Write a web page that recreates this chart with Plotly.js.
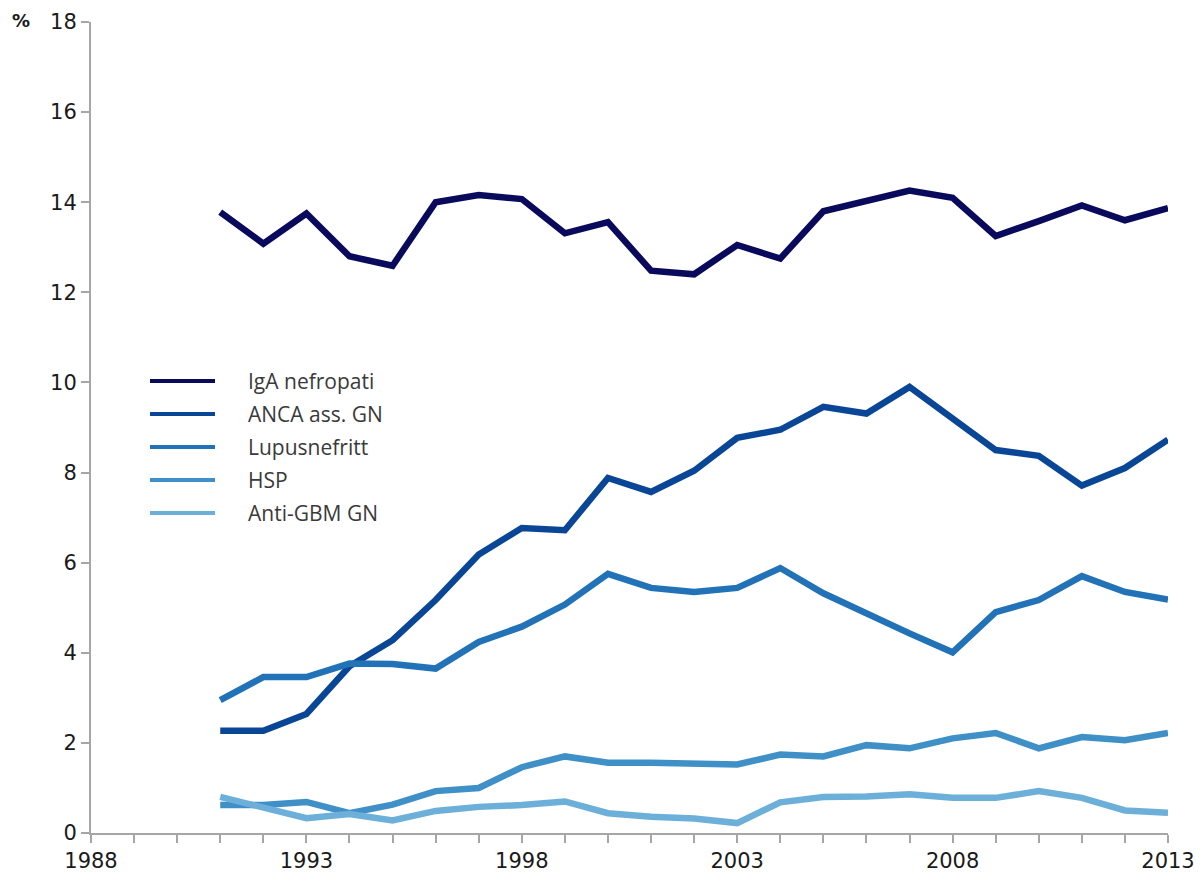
<!DOCTYPE html>
<html>
<head>
<meta charset="utf-8">
<script src="https://cdn.plot.ly/plotly-3.0.1.min.js"></script>
<style>html,body{margin:0;padding:0;background:#fff;}#chart{width:1203px;height:882px;}</style>
</head>
<body>
<div id="chart"></div>
<script>
const years = [1991,1992,1993,1994,1995,1996,1997,1998,1999,2000,2001,2002,2003,2004,2005,2006,2007,2008,2009,2010,2011,2012,2013];
const seriesNames = ["IgA nefropati","ANCA ass. GN","Lupusnefritt","HSP","Anti-GBM GN"];
const igaNefropati = [13.78,13.08,13.75,12.80,12.59,14.00,14.16,14.07,13.31,13.56,12.48,12.40,13.05,12.75,13.80,14.02,14.26,14.10,13.25,13.58,13.93,13.60,13.87];
const ancaAssGN   = [2.27,2.27,2.64,3.70,4.28,5.17,6.18,6.77,6.72,7.88,7.57,8.04,8.77,8.95,9.46,9.31,9.90,9.22,8.50,8.37,7.71,8.10,8.73];
const lupusnefritt = [2.95,3.46,3.46,3.76,3.75,3.65,4.24,4.58,5.07,5.75,5.44,5.35,5.44,5.88,5.32,4.87,4.43,4.01,4.90,5.17,5.70,5.35,5.18];
const hsp          = [0.62,0.62,0.69,0.44,0.63,0.93,1.00,1.46,1.70,1.56,1.56,1.55,1.52,1.74,1.70,1.95,1.88,2.10,2.22,1.88,2.13,2.06,2.22];
const antiGBM      = [0.80,0.57,0.33,0.42,0.28,0.49,0.58,0.62,0.70,0.44,0.36,0.32,0.22,0.68,0.80,0.81,0.86,0.78,0.78,0.93,0.78,0.50,0.45];
const xTickVals = [1988,1989,1990,1991,1992,1993,1994,1995,1996,1997,1998,1999,2000,2001,2002,2003,2004,2005,2006,2007,2008,2009,2010,2011,2012,2013];
const xTickText = ["1988","","","","","1993","","","","","1998","","","","","2003","","","","","2008","","","","","2013"];
const yTickVals = [0,2,4,6,8,10,12,14,16,18];

const allSeries = [igaNefropati, ancaAssGN, lupusnefritt, hsp, antiGBM];
const colors = ["#0a0a5c","#0a4696","#2272b8","#4090c8","#6cb0da"];

const traces = allSeries.map((vals,i)=>({
  x: years, y: vals, name: seriesNames[i], type: "scatter", mode: "lines",
  line: {color: colors[i], width: 6.5, shape: "linear"}, showlegend: false, hoverinfo: "x+y+name"
}));

// Manual legend (pixel geometry -> paper coords)
const W = 1203, H = 882, mL = 91, mR = 35, mT = 22, mB = 49;
const pw = W - mL - mR, ph = H - mT - mB;
const px = v => (v - mL) / pw;
const py = v => (H - mB - v) / ph;
const shapes = [], annotations = [];
seriesNames.forEach((n,i)=>{
  const yy = 381 + i*33;
  shapes.push({type:"line", xref:"paper", yref:"paper", x0:px(150), x1:px(215), y0:py(yy), y1:py(yy), line:{color:colors[i], width:4}});
  annotations.push({xref:"paper", yref:"paper", x:px(246), y:py(yy), xanchor:"left", yanchor:"middle", text:n, showarrow:false, font:{family:"Open Sans", size:21, color:"#3a3a3a"}});
});
annotations.push({xref:"paper", yref:"paper", x:px(10), y:py(21), xanchor:"left", yanchor:"middle", text:"<b>%</b>", showarrow:false, font:{family:"DejaVu Sans", size:18, color:"#1a1a1a"}});

const tickFont = {family: "DejaVu Sans", size: 21, color: "#1a1a1a"};
const layout = {
  width: W, height: H,
  margin: {l: mL, r: mR, t: mT, b: mB, pad: 0},
  paper_bgcolor: "#ffffff", plot_bgcolor: "#ffffff",
  showlegend: false,
  xaxis: {
    range: [1988, 2013], tickmode: "array", tickvals: xTickVals, ticktext: xTickText,
    showgrid: false, zeroline: false, showline: true, linecolor: "#a6a6a6", linewidth: 2,
    ticks: "outside", ticklen: 8, tickwidth: 2, tickcolor: "#a6a6a6",
    tickfont: tickFont
  },
  yaxis: {
    range: [0, 18], tickmode: "array", tickvals: yTickVals,
    showgrid: false, zeroline: false, showline: true, linecolor: "#a6a6a6", linewidth: 2,
    ticks: "outside", ticklen: 8, tickwidth: 2, tickcolor: "#a6a6a6",
    tickfont: tickFont
  },
  shapes: shapes,
  annotations: annotations
};
Plotly.newPlot("chart", traces, layout, {displayModeBar: false, staticPlot: true});
</script>
</body>
</html>
